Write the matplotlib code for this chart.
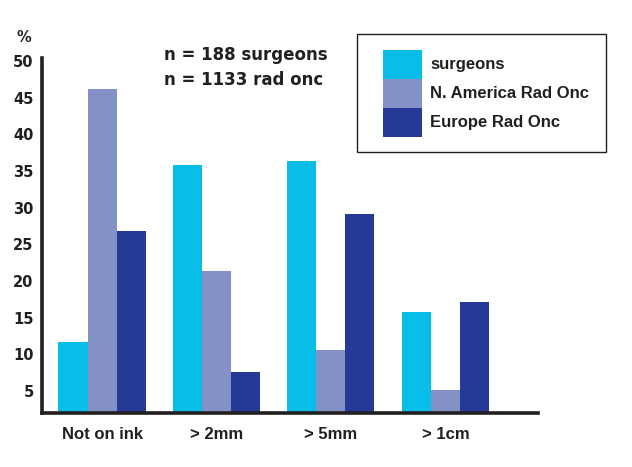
import numpy as np
import matplotlib; matplotlib.use("Agg")
import matplotlib.pyplot as plt
from matplotlib.patches import Rectangle

plt.rcParams["font.family"] = ["Liberation Sans", "DejaVu Sans"]
plt.rcParams["font.weight"] = "bold"

categories = ["Not on ink", "> 2mm", "> 5mm", "> 1cm"]
series = ["surgeons", "N. America Rad Onc", "Europe Rad Onc"]
surgeons = [11.7, 35.8, 36.4, 15.8]
na_radonc = [46.2, 21.4, 10.6, 5.1]
eu_radonc = [26.8, 7.6, 29.1, 17.1]
yticks = [5, 10, 15, 20, 25, 30, 35, 40, 45, 50]
colors = ["#08bee9", "#8391c6", "#253a96"]
INK = "#231f20"
WIDE = ["DejaVu Sans"]

W, H = 632, 467
fig = plt.figure(figsize=(W/100, H/100), dpi=100)
# axes box in pixels: left 42, right 538, top 58, bottom 413
ax = fig.add_axes([42/W, 1 - 413/H, (538-42)/W, (413-58)/H])

x = np.arange(len(categories))
bw = 0.254
for k, (vals, c) in enumerate(zip([surgeons, na_radonc, eu_radonc], colors)):
    ax.bar(x + (k-1)*bw, vals, width=bw, color=c, edgecolor="none")

ax.set_xlim(-0.525, 3.81)
ax.set_ylim(2.0, 50.4)
ax.set_yticks(yticks)
ax.set_yticklabels([str(v) for v in yticks], fontsize=10.5, fontweight="bold",
                   color=INK, family=WIDE)
ax.set_xticks(x)
ax.set_xticklabels(categories, fontsize=12, fontweight="bold", color=INK)
ax.tick_params(axis="both", length=0)
ax.tick_params(axis="y", pad=6)
ax.tick_params(axis="x", pad=10)
for s in ["top", "right"]:
    ax.spines[s].set_visible(False)
for s in ["left", "bottom"]:
    ax.spines[s].set_linewidth(2.6)
    ax.spines[s].set_color(INK)

fig.text(24/W, 1 - 38/H, "%", fontsize=10.5, fontweight="bold", color=INK,
         ha="center", va="center", family=WIDE)
fig.text(164/W, 1 - 55/H, "n = 188 surgeons", fontsize=12, fontweight="bold",
         color=INK, va="center", family=WIDE)
fig.text(164/W, 1 - 80/H, "n = 1133 rad onc", fontsize=12, fontweight="bold",
         color=INK, va="center", family=WIDE)

# legend box drawn by hand
fig.add_artist(Rectangle((357/W, 1 - 152/H), (606-357)/W, (152-34)/H, transform=fig.transFigure,
                         facecolor="white", edgecolor=INK, linewidth=1.0))
for i, (lab, c) in enumerate(zip(series, colors)):
    top = 50 + i*29
    fig.add_artist(Rectangle((383/W, 1 - (top+29)/H), 39/W, 29/H, transform=fig.transFigure,
                             facecolor=c, edgecolor="none"))
    fig.text(430/W, 1 - (top+15)/H, lab, fontsize=12, fontweight="bold", color=INK, va="center")

fig.savefig("out.png", dpi=100)
